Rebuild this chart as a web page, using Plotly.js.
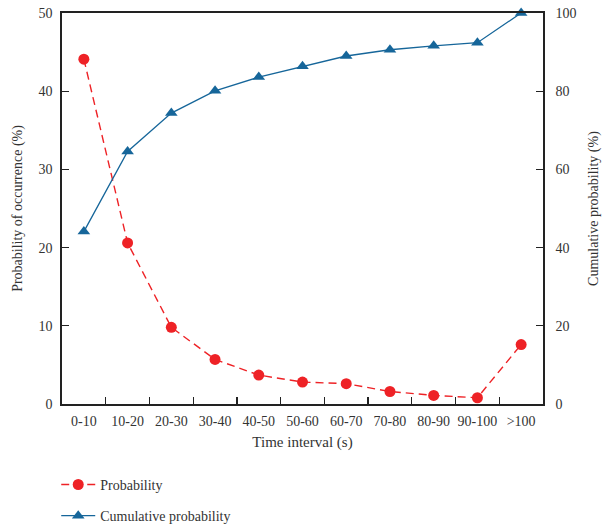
<!DOCTYPE html>
<html>
<head>
<meta charset="utf-8">
<script src="https://cdn.plot.ly/plotly-3.0.1.min.js"></script>
<style>
  html, body { margin: 0; padding: 0; background: #fff; }
  #chart { width: 602px; height: 529px; }
</style>
</head>
<body>
<div id="chart"></div>
<script>
// Time intervals between events, in seconds
const intervals = ['0-10', '10-20', '20-30', '30-40', '40-50', '50-60',
                   '60-70', '70-80', '80-90', '90-100', '>100'];

// Probability of occurrence per interval (%), left axis
const probability = [44.1, 20.6, 9.8, 5.7, 3.7, 2.8, 2.6, 1.6, 1.1, 0.8, 7.6];

// Cumulative probability (%), right axis
const cumulative = [44.1, 64.6, 74.4, 80.1, 83.6, 86.4, 89.0, 90.6, 91.6, 92.4, 100];

const leftTicks = [0, 10, 20, 30, 40, 50];
const rightTicks = [0, 20, 40, 60, 80, 100];

const FONT = 'Liberation Serif, Times New Roman, serif';
const TEXT = '#333333';
const AXIS = '#222222';

const traces = [
  {
    x: intervals,
    y: probability,
    name: 'Probability',
    type: 'scatter',
    mode: 'lines+markers',
    legendgroup: 'p',
    line: { color: '#ee2226', width: 1.4, dash: '8px,5px' },
    marker: { color: '#ee2226', symbol: 'circle', size: 11 },
    yaxis: 'y'
  },
  {
    x: intervals,
    y: cumulative,
    name: 'Cumulative probability',
    type: 'scatter',
    mode: 'lines+markers',
    legendgroup: 'c',
    line: { color: '#16669a', width: 1.3 },
    marker: { color: '#16669a', symbol: 'triangle-up', size: 11 },
    yaxis: 'y2',
    cliponaxis: false
  }
];

const layout = {
  width: 602,
  height: 529,
  margin: { l: 62, r: 59, t: 13, b: 125, autoexpand: false },
  paper_bgcolor: '#ffffff',
  plot_bgcolor: '#ffffff',
  font: { family: FONT, size: 14, color: TEXT },
  showlegend: true,
  legend: {
    orientation: 'v',
    x: -0.012,
    xanchor: 'left',
    y: -0.166,
    yanchor: 'top',
    traceorder: 'grouped',
    tracegroupgap: 10,
    itemwidth: 34,
    font: { family: FONT, size: 14, color: TEXT },
    bgcolor: 'rgba(0,0,0,0)'
  },
  xaxis: {
    type: 'category',
    range: [-0.5, intervals.length - 0.5],
    automargin: false,
    tickangle: 0,
    tickson: 'boundaries',
    ticks: 'inside',
    ticklen: 7,
    tickwidth: 1.3,
    tickcolor: AXIS,
    ticklabelstandoff: 3,
    showline: true,
    linecolor: AXIS,
    linewidth: 1.8,
    mirror: true,
    showgrid: false,
    zeroline: false,
    tickfont: { family: FONT, size: 14, color: TEXT },
    title: { text: 'Time interval (s)', font: { family: FONT, size: 15, color: TEXT }, standoff: 9 }
  },
  yaxis: {
    automargin: false,
    range: [0, 50],
    tickvals: leftTicks,
    ticks: 'inside',
    ticklen: 7,
    tickwidth: 1.3,
    tickcolor: AXIS,
    ticklabelstandoff: 5,
    showline: true,
    linecolor: AXIS,
    linewidth: 1.8,
    mirror: true,
    showgrid: false,
    zeroline: false,
    tickfont: { family: FONT, size: 14, color: TEXT },
    title: { text: 'Probability of occurrence (%)', font: { family: FONT, size: 14, color: TEXT }, standoff: 12 }
  },
  yaxis2: {
    automargin: false,
    range: [0, 100],
    tickvals: rightTicks,
    overlaying: 'y',
    side: 'right',
    ticks: 'inside',
    ticklen: 7,
    tickwidth: 1.3,
    tickcolor: AXIS,
    ticklabelstandoff: 8,
    showline: true,
    linecolor: AXIS,
    linewidth: 1.8,
    showgrid: false,
    zeroline: false,
    tickfont: { family: FONT, size: 14, color: TEXT },
    title: { text: 'Cumulative probability (%)', font: { family: FONT, size: 14, color: TEXT }, standoff: 16 }
  }
};

Plotly.newPlot('chart', traces, layout, { displayModeBar: false, staticPlot: true });
</script>
</body>
</html>
